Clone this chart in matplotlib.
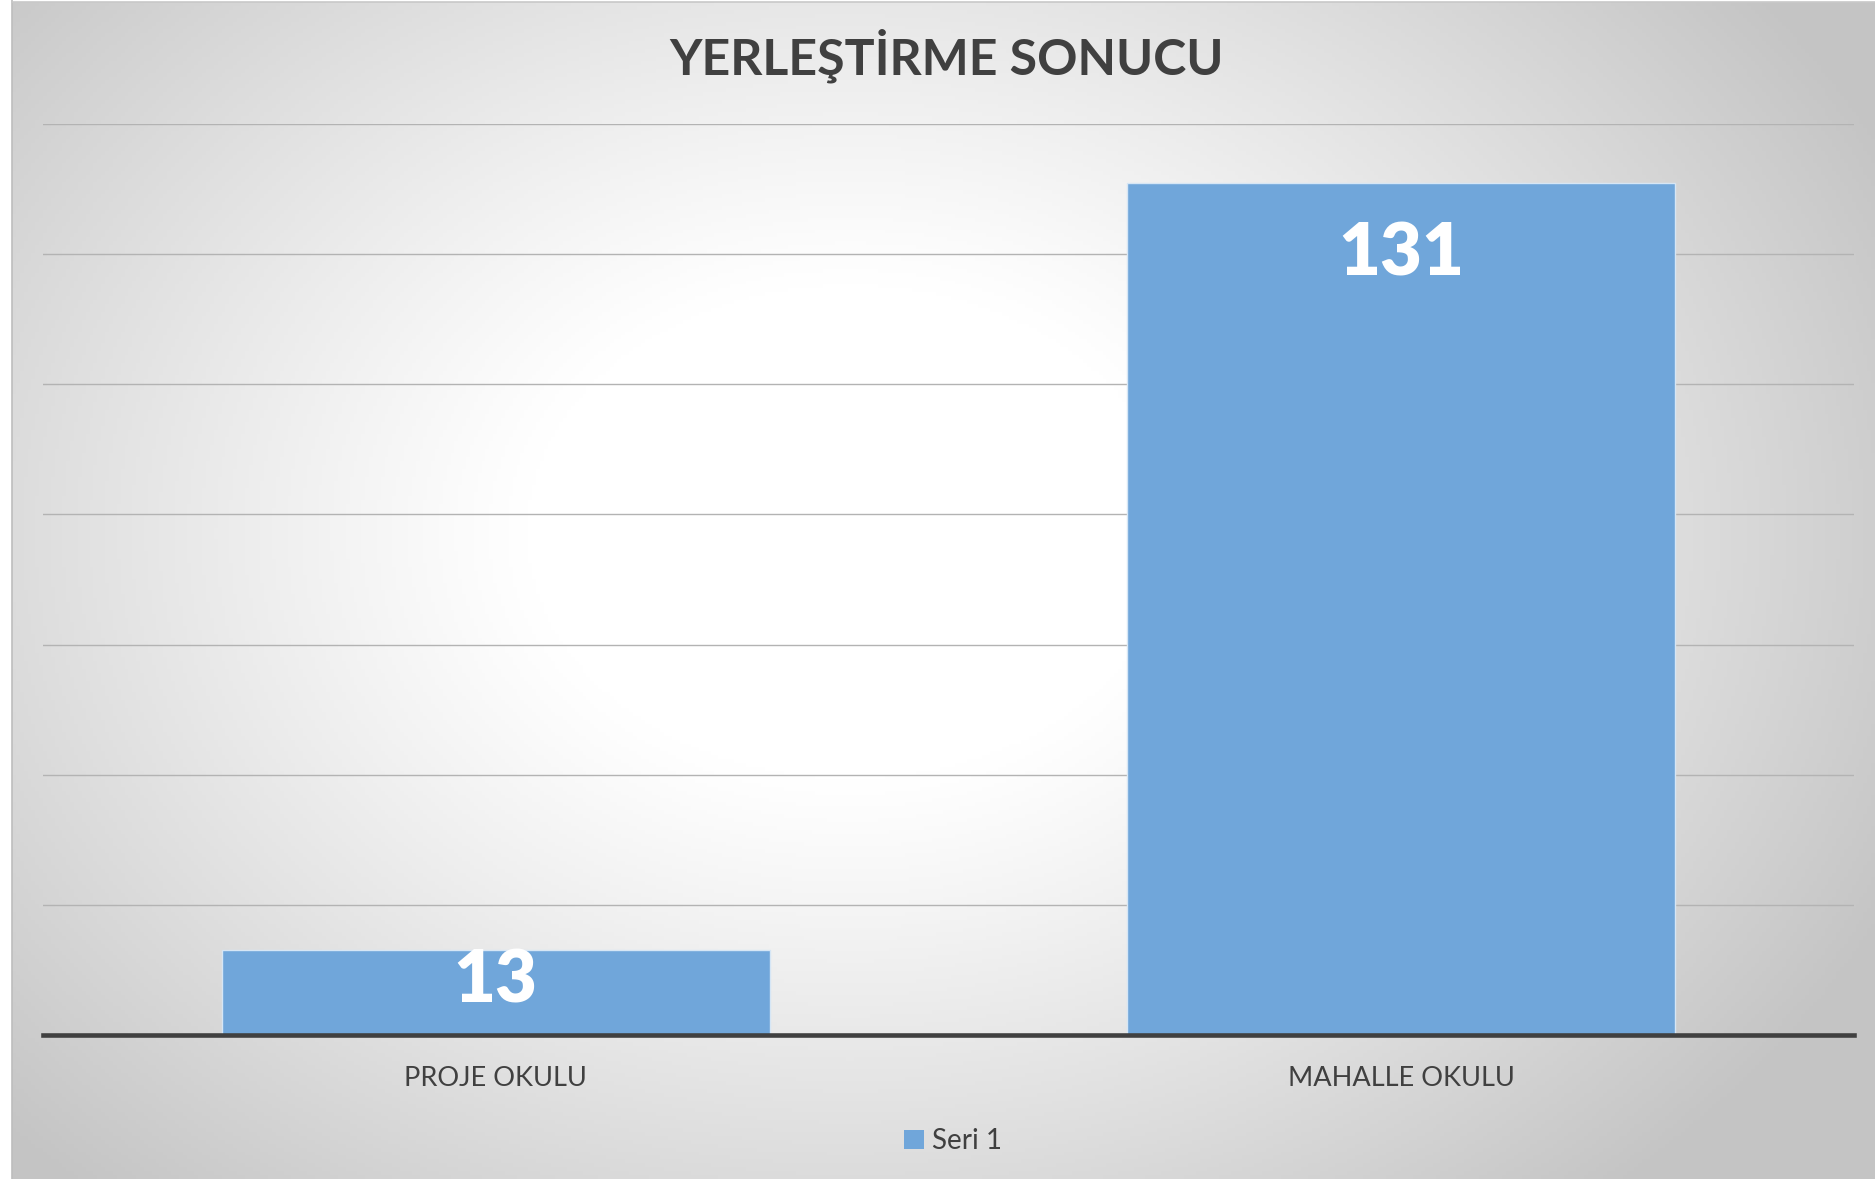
import numpy as np
import matplotlib
matplotlib.use("Agg")
import matplotlib.pyplot as plt
from matplotlib.patches import Patch

# ---- data ----
categories = ["PROJE OKULU", "MAHALLE OKULU"]
values = [13, 131]
series_name = "Seri 1"
title = "YERLEŞTİRME SONUCU"

# ---- style ----
W, H, DPI = 1875, 1179, 100
bar_color = "#70A6DA"
text_color = "#404040"
font = ["Lato", "DejaVu Sans"]
label_offsets_px = [-31, -72]

fig = plt.figure(figsize=(W / DPI, H / DPI), dpi=DPI, facecolor="white")

# background radial gradient
bg = fig.add_axes([12 / W, 0, 1 - 12 / W, 1 - 2 / H], zorder=-10)
ny, nx = 300, 480
yy, xx = np.mgrid[0:ny, 0:nx]
xn = xx / (nx - 1)
yn = yy / (ny - 1)
r = np.sqrt(((xn - 0.45) / 0.62) ** 2 + ((yn - 0.45) / 0.75) ** 2)
v = 1 - 0.23 * np.clip((r - 0.28) / 0.72, 0, 1) ** 1.1
bg.imshow(np.dstack([v, v, v]), aspect="auto", extent=[0, 1, 0, 1], origin="upper")
bg.set_axis_off()
fig.add_artist(plt.Line2D([12 / W, 12 / W], [0, 1], color="#bdbdbd", lw=1.2, transform=fig.transFigure))
fig.add_artist(plt.Line2D([12 / W, 1], [1 - 1.5 / H, 1 - 1.5 / H], color="#c8c8c8", lw=1.2, transform=fig.transFigure))

ax_left, ax_right = 43, 1854
ax_bottom, ax_top = 1035, 124
ax = fig.add_axes([ax_left / W, 1 - ax_bottom / H, (ax_right - ax_left) / W, (ax_bottom - ax_top) / H])
ax.patch.set_alpha(0)

x = np.arange(len(categories))
bars = ax.bar(x, values, width=0.605, color=bar_color, edgecolor="#d6e6f5", linewidth=1.0, zorder=3)
ax.set_xlim(-0.5, len(categories) - 0.5)
ax.set_ylim(0, 140)
ax.set_yticks(np.arange(20, 141, 20))
ax.yaxis.grid(True, color="#b3b3b3", lw=1.0, zorder=0)
ax.tick_params(axis="y", length=0, labelleft=False)
ax.tick_params(axis="x", length=0, pad=22)
ax.set_xticks(x)
ax.set_xticklabels(categories, fontsize=19.5, color=text_color, family=font)
for s in ["left", "right", "top"]:
    ax.spines[s].set_visible(False)
ax.spines["bottom"].set_color("#404040")
ax.spines["bottom"].set_linewidth(3.3)
ax.spines["bottom"].set_zorder(4)

for i, val in enumerate(values):
    ax.annotate(str(val), xy=(x[i], val), xytext=(0, label_offsets_px[i] * 72 / DPI),
                textcoords="offset points", ha="center", va="center",
                fontsize=52, fontweight="heavy", color="white", family=font, zorder=5)

fig.text(947 / W, 1 - 56 / H, title, ha="center", va="center", fontsize=36,
         fontweight="bold", color=text_color, family=font)

fig.legend(handles=[Patch(facecolor=bar_color, label=series_name)], loc="center",
           bbox_to_anchor=(953 / W, 1 - 1141 / H), frameon=False,
           prop={"family": font, "size": 20}, handlelength=0.7, handleheight=0.7,
           handletextpad=0.3, labelcolor=text_color)

fig.savefig("out.png", dpi=DPI, facecolor=fig.get_facecolor())
